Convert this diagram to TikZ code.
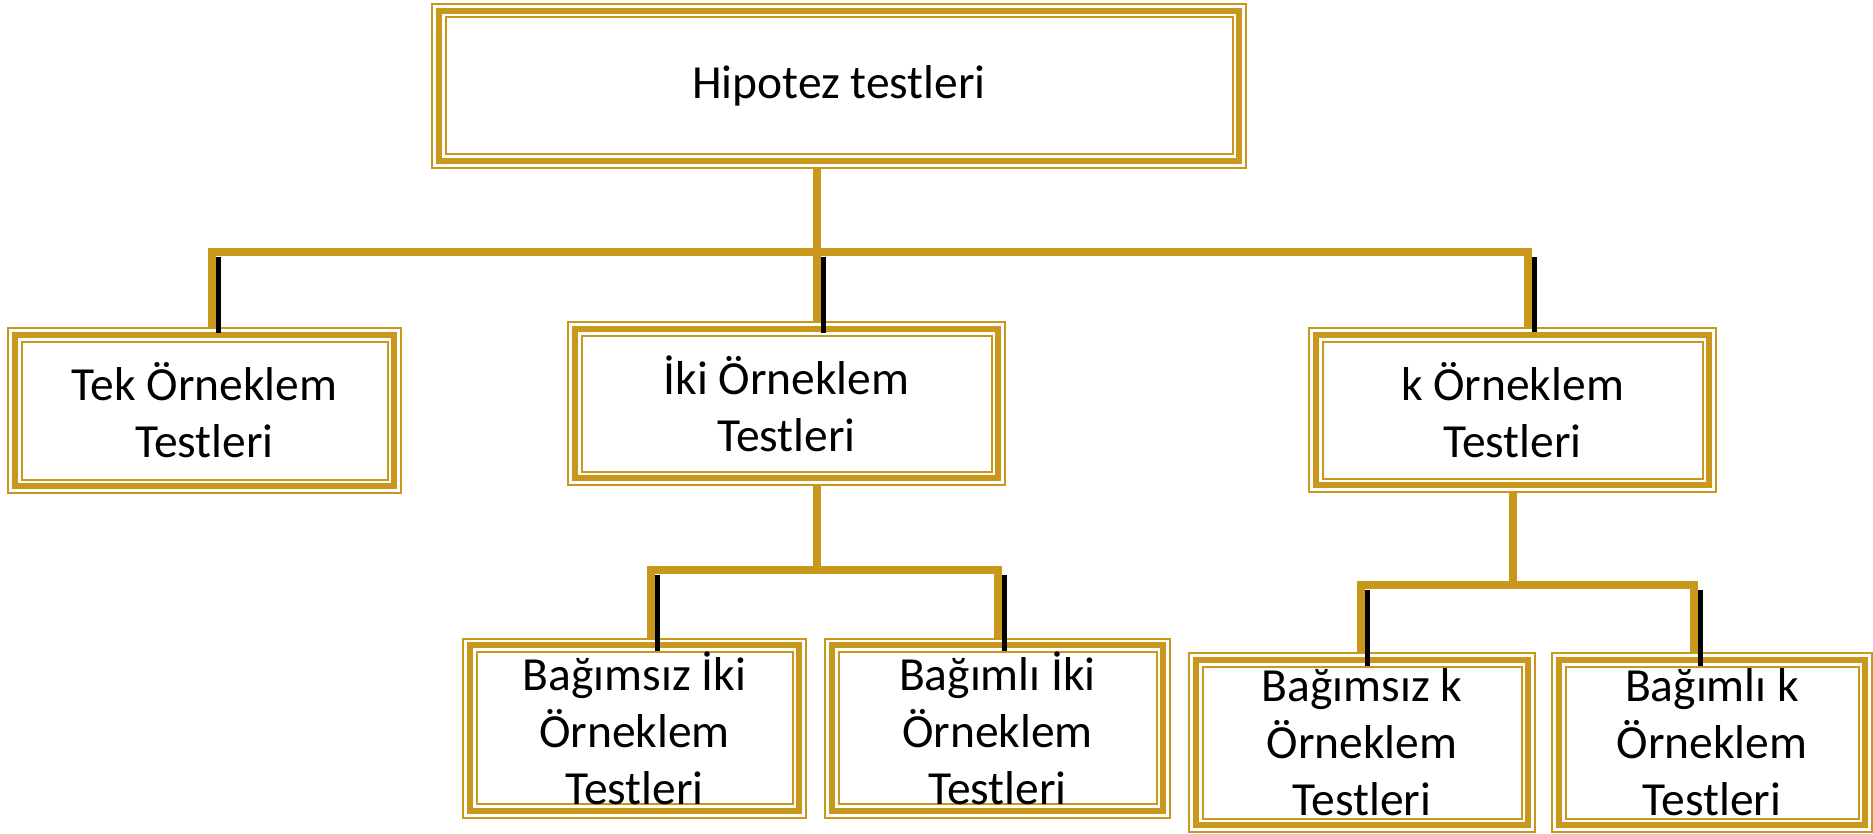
\documentclass[tikz,border=0pt]{standalone}
\usepackage{fontspec}
\setmainfont{Carlito}
\definecolor{altin}{RGB}{201,151,28}
\tikzset{
	kutu/.style={draw=altin, line width=15.5pt, fill=white, inner sep=0pt, outer sep=7.75pt,
		align=center, font=\fontsize{47.5}{57}\selectfont,
		postaction={draw=white, line width=11.5pt},
		postaction={draw=altin, line width=6pt}},
	bag/.style={draw=altin, line width=8pt},
	golge/.style={draw=black, line width=5.5pt}
}

\begin{document}
\begin{tikzpicture}[x=1pt,y=-1pt]
	\useasboundingbox (0,0) rectangle (1873,834);
	\node[kutu, minimum width=800.5pt, minimum height=150.5pt] (root) at (839,86) {Hipotez testleri};
	\node[kutu, minimum width=379.5pt, minimum height=151.5pt] (tek) at (204.5,410.5) {Tek Örneklem\\Testleri};
	\node[kutu, minimum width=423.5pt, minimum height=149.5pt] (iki) at (786.5,403.5) {İki Örneklem\\Testleri};
	\node[kutu, minimum width=393.5pt, minimum height=150.5pt] (k) at (1512.5,410) {k Örneklem\\Testleri};
	\node[kutu, minimum width=329.5pt, minimum height=165.5pt] (bsiki) at (634.5,728) {Bağımsız İki\\Örneklem\\Testleri};
	\node[kutu, minimum width=331.5pt, minimum height=165.5pt] (bliki) at (997.5,728) {Bağımlı İki\\Örneklem\\Testleri};
	\node[kutu, minimum width=332.5pt, minimum height=165.5pt] (bsk) at (1362,742.5) {Bağımsız k\\Örneklem\\Testleri};
	\node[kutu, minimum width=306.5pt, minimum height=165.5pt] (blk) at (1712,742.5) {Bağımlı k\\Örneklem\\Testleri};

	\coordinate (r) at (817,252.5);
	\coordinate (i) at (817,569.5);
	\coordinate (kk) at (1513,585);
	\coordinate (xtek) at (212,0);
	\coordinate (xk) at (1528,0);
	\coordinate (xbsiki) at (651,0);
	\coordinate (xbliki) at (998,0);
	\coordinate (xbsk) at (1361,0);
	\coordinate (xblk) at (1694,0);

	\draw[bag] (r |- root.south) -- (r) -| (xtek |- tek.north);
	\draw[bag] (r |- root.south) -- (r |- iki.north);
	\draw[bag] (r |- root.south) -- (r) -| (xk |- k.north);
	\draw[bag] (i |- iki.south) -- (i) -| (xbsiki |- bsiki.north);
	\draw[bag] (i |- iki.south) -- (i) -| (xbliki |- bliki.north);
	\draw[bag] (kk |- k.south) -- (kk) -| (xbsk |- bsk.north);
	\draw[bag] (kk |- k.south) -- (kk) -| (xblk |- blk.north);

	\draw[golge] ([xshift=6.5pt,yshift=-5pt]r -| xtek) -- ([xshift=6.5pt,yshift=-6pt]xtek |- tek.north);
	\draw[golge] ([xshift=6.5pt,yshift=-5pt]r) -- ([xshift=6.5pt,yshift=-12pt]r |- iki.north);
	\draw[golge] ([xshift=6.5pt,yshift=-5pt]r -| xk) -- ([xshift=6.5pt,yshift=-5pt]xk |- k.north);
	\draw[golge] ([xshift=6.5pt,yshift=-5.5pt]i -| xbsiki) -- ([xshift=6.5pt,yshift=-13pt]xbsiki |- bsiki.north);
	\draw[golge] ([xshift=6.5pt,yshift=-5.5pt]i -| xbliki) -- ([xshift=6.5pt,yshift=-13pt]xbliki |- bliki.north);
	\draw[golge] ([xshift=6.5pt,yshift=-5pt]kk -| xbsk) -- ([xshift=6.5pt,yshift=-14pt]xbsk |- bsk.north);
	\draw[golge] ([xshift=6.5pt,yshift=-5pt]kk -| xblk) -- ([xshift=6.5pt,yshift=-14pt]xblk |- blk.north);
\end{tikzpicture}
\end{document}
